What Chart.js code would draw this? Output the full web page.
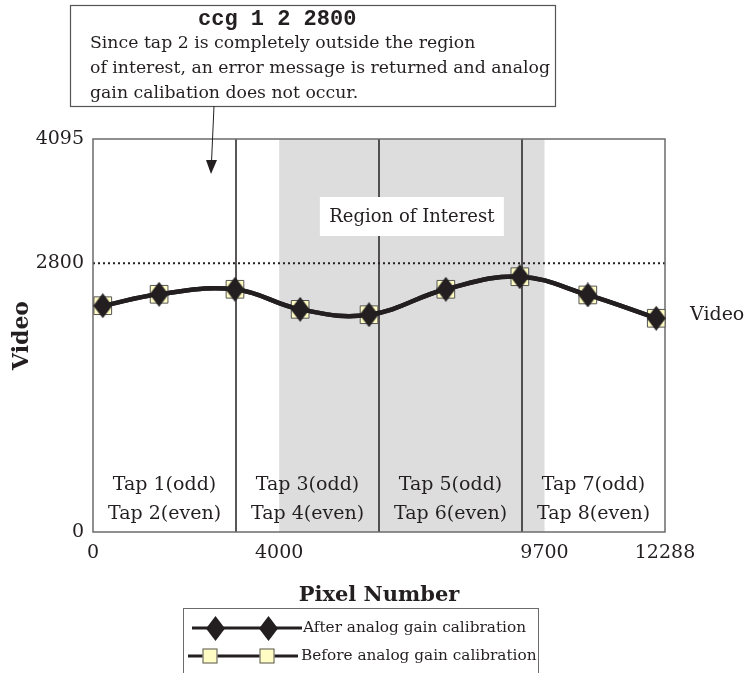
<!DOCTYPE html>
<html>
<head>
<meta charset="utf-8">
<script src="https://cdn.jsdelivr.net/npm/chart.js@4/dist/chart.umd.min.js"></script>
<style>
  html, body { margin: 0; padding: 0; background: #fff; }
  canvas { display: block; }
</style>
</head>
<body>
<canvas id="chart" width="745" height="673"></canvas>
<script>
// ==== data ====
const PIXELS     = [210, 1420, 3050, 4450, 5930, 7580, 9170, 10630, 12100];
const AFTER_CAL  = [2358, 2477, 2529, 2320, 2264, 2529, 2660, 2470, 2227];
const BEFORE_CAL = [2358, 2477, 2529, 2320, 2264, 2529, 2660, 2470, 2227];
const X_TICKS    = [0, 4000, 9700, 12288];
const Y_TICKS    = [0, 2800, 4095];
const TAP_BOUNDS = [0, 3072, 6144, 9216, 12288];
const TAP_LABELS = [
  ["Tap 1(odd)", "Tap 2(even)"],
  ["Tap 3(odd)", "Tap 4(even)"],
  ["Tap 5(odd)", "Tap 6(even)"],
  ["Tap 7(odd)", "Tap 8(even)"]
];
const ROI    = [4000, 9700];
const TARGET = 2800;
const SERIES_NAMES = ["After analog gain calibration", "Before analog gain calibration"];
const CALLOUT_CMD  = "ccg 1 2 2800";
const CALLOUT_TEXT = [
  "Since tap 2 is completely outside the region",
  "of interest, an error message is returned and analog",
  "gain calibation does not occur."
];

// ==== styles ====
const INK   = "#231f20";
const SERIF = "'DejaVu Serif', serif";
const SQUARE_FILL = "#fffcc4";

// tall black diamond used as point style
function makeDiamond(w, h) {
  const cv = document.createElement("canvas");
  cv.width = w; cv.height = h;
  const g = cv.getContext("2d");
  g.fillStyle = INK;
  g.beginPath();
  g.moveTo(w / 2, 0); g.lineTo(w, h / 2); g.lineTo(w / 2, h); g.lineTo(0, h / 2);
  g.closePath(); g.fill();
  return cv;
}
const DIAMOND = makeDiamond(19, 25);

function drawSquare(ctx, cx, cy, s) {
  ctx.fillStyle = SQUARE_FILL;
  ctx.strokeStyle = "#555";
  ctx.lineWidth = 1;
  ctx.fillRect(cx - s / 2, cy - s / 2, s, s);
  ctx.strokeRect(cx - s / 2 + .5, cy - s / 2 + .5, s - 1, s - 1);
}

function vline(ctx, px, top, bottom) {
  ctx.beginPath(); ctx.moveTo(px, top); ctx.lineTo(px, bottom); ctx.stroke();
}

// background pieces, frame and annotations
const diagram = {
  id: "diagram",
  beforeDatasetsDraw(c) {
    const { ctx, chartArea: a, scales: { x, y } } = c;
    ctx.save();

    // region of interest shading
    const r0 = x.getPixelForValue(ROI[0]), r1 = x.getPixelForValue(ROI[1]);
    ctx.fillStyle = "#dddddd";
    ctx.fillRect(r0, a.top, r1 - r0, a.bottom - a.top);

    // tap boundaries
    ctx.strokeStyle = INK;
    ctx.lineWidth = 1.5;
    TAP_BOUNDS.slice(1, -1).forEach(v => vline(ctx, x.getPixelForValue(v), a.top, a.bottom));

    // 2800 dotted level
    const ty = y.getPixelForValue(TARGET);
    ctx.setLineDash([2, 3]);
    ctx.lineWidth = 2;
    ctx.beginPath(); ctx.moveTo(a.left, ty); ctx.lineTo(a.right, ty); ctx.stroke();
    ctx.setLineDash([]);

    // frame
    ctx.strokeStyle = "#6b6b6b";
    ctx.lineWidth = 1.5;
    ctx.strokeRect(a.left, a.top, a.right - a.left, a.bottom - a.top);

    // "Region of Interest" label box
    const cx = (r0 + r1) / 2, cy = a.top + 78;
    ctx.fillStyle = "#fff";
    ctx.fillRect(cx - 92, cy - 20, 184, 39);
    ctx.fillStyle = INK;
    ctx.font = `18px ${SERIF}`;
    ctx.textAlign = "center";
    ctx.textBaseline = "middle";
    ctx.fillText("Region of Interest", cx, cy);

    // tap labels
    ctx.font = `19px ${SERIF}`;
    TAP_LABELS.forEach((lines, i) => {
      const mx = x.getPixelForValue((TAP_BOUNDS[i] + TAP_BOUNDS[i + 1]) / 2);
      ctx.fillText(lines[0], mx, a.bottom - 47);
      ctx.fillText(lines[1], mx, a.bottom - 18);
    });
    ctx.restore();
  },
  afterDraw(c) {
    const { ctx, chartArea: a, scales: { y } } = c;
    ctx.save();
    ctx.fillStyle = INK;
    ctx.strokeStyle = INK;
    ctx.textBaseline = "middle";

    // right-hand "Video" label at the end of the curve
    ctx.font = `19px ${SERIF}`;
    ctx.textAlign = "left";
    ctx.fillText("Video", a.right + 25, y.getPixelForValue(AFTER_CAL[AFTER_CAL.length - 1]) - 3);

    // axis titles
    ctx.font = `bold 21px ${SERIF}`;
    ctx.textAlign = "center";
    ctx.fillText("Pixel Number", (a.left + a.right) / 2, a.bottom + 64);
    ctx.save();
    ctx.translate(22, (a.top + a.bottom) / 2);
    ctx.rotate(-Math.PI / 2);
    ctx.font = `bold 22px ${SERIF}`;
    ctx.fillText("Video", 0, 0);
    ctx.restore();

    // callout box
    ctx.strokeStyle = "#555";
    ctx.lineWidth = 1.2;
    ctx.strokeRect(70.5, 5.5, 485, 101);
    ctx.font = "bold 22px 'Liberation Mono', monospace";
    ctx.textAlign = "left";
    ctx.fillText(CALLOUT_CMD, 198, 19);
    ctx.font = `17.3px ${SERIF}`;
    CALLOUT_TEXT.forEach((t, i) => ctx.fillText(t, 90, 44 + i * 25));

    // arrow from callout into the plot
    ctx.strokeStyle = INK;
    ctx.lineWidth = 1;
    ctx.beginPath(); ctx.moveTo(214, 106); ctx.lineTo(211.5, 162); ctx.stroke();
    ctx.beginPath();
    ctx.moveTo(211, 174); ctx.lineTo(206, 160); ctx.lineTo(217, 160); ctx.closePath(); ctx.fill();

    // legend
    ctx.strokeStyle = "#6b6b6b";
    ctx.lineWidth = 1;
    ctx.strokeRect(183.5, 608.5, 355, 80);
    ctx.strokeStyle = INK;
    ctx.lineWidth = 3;
    ctx.beginPath(); ctx.moveTo(192, 628); ctx.lineTo(302, 628); ctx.stroke();
    ctx.drawImage(DIAMOND, 215 - 9, 628 - 12);
    ctx.drawImage(DIAMOND, 268 - 9, 628 - 12);
    ctx.beginPath(); ctx.moveTo(188, 656); ctx.lineTo(298, 656); ctx.stroke();
    drawSquare(ctx, 210, 656, 15);
    drawSquare(ctx, 267, 656, 15);
    ctx.fillStyle = INK;
    ctx.font = `15.3px ${SERIF}`;
    ctx.fillText(SERIES_NAMES[0], 303, 628);
    ctx.fillText(SERIES_NAMES[1], 301, 656);
    ctx.restore();
  }
};

const toPoints = vals => PIXELS.map((px, i) => ({ x: px, y: vals[i] }));

new Chart(document.getElementById("chart"), {
  type: "line",
  data: {
    datasets: [
      {
        label: SERIES_NAMES[0],
        data: toPoints(AFTER_CAL),
        borderColor: INK,
        borderWidth: 4.5,
        tension: 0.4,
        pointStyle: DIAMOND,
        pointRadius: 12
      },
      {
        label: SERIES_NAMES[1],
        data: toPoints(BEFORE_CAL),
        borderColor: INK,
        borderWidth: 4.5,
        tension: 0.4,
        pointStyle: "rect",
        pointRadius: 12.5,
        pointBackgroundColor: SQUARE_FILL,
        pointBorderColor: "#555",
        pointBorderWidth: 1
      }
    ]
  },
  options: {
    responsive: false,
    animation: false,
    devicePixelRatio: 1,
    clip: false,
    layout: { padding: { top: 139, right: 80, bottom: 0, left: 0 } },
    plugins: { legend: { display: false }, tooltip: { enabled: false } },
    scales: {
      x: {
        type: "linear",
        min: 0,
        max: 12288,
        afterBuildTicks: s => { s.ticks = X_TICKS.map(v => ({ value: v })); },
        afterFit: s => { s.height = 141; },
        grid: { display: false, drawTicks: false },
        border: { display: false },
        ticks: {
          padding: 10, color: INK, font: { family: SERIF, size: 19 },
          maxRotation: 0, autoSkip: false, callback: v => String(v)
        }
      },
      y: {
        min: 0,
        max: 4095,
        afterBuildTicks: s => { s.ticks = Y_TICKS.map(v => ({ value: v })); },
        afterFit: s => { s.width = 93; },
        grid: { display: false, drawTicks: false },
        border: { display: false },
        ticks: {
          padding: 9, color: INK, font: { family: SERIF, size: 19 },
          autoSkip: false, callback: v => String(v)
        }
      }
    }
  },
  plugins: [diagram]
});
</script>
</body>
</html>
